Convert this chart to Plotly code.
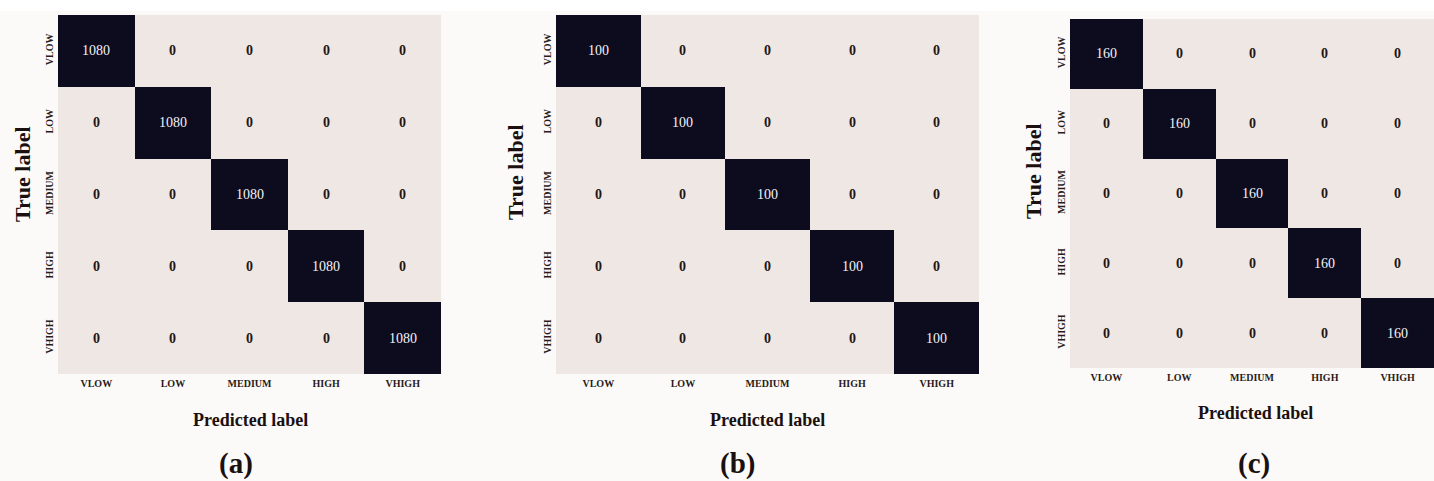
import plotly.graph_objects as go

W, H = 1434, 481

classes = ["VLOW", "LOW", "MEDIUM", "HIGH", "VHIGH"]
cm_a = [[1080, 0, 0, 0, 0],
        [0, 1080, 0, 0, 0],
        [0, 0, 1080, 0, 0],
        [0, 0, 0, 1080, 0],
        [0, 0, 0, 0, 1080]]
cm_b = [[100, 0, 0, 0, 0],
        [0, 100, 0, 0, 0],
        [0, 0, 100, 0, 0],
        [0, 0, 0, 100, 0],
        [0, 0, 0, 0, 100]]
cm_c = [[160, 0, 0, 0, 0],
        [0, 160, 0, 0, 0],
        [0, 0, 160, 0, 0],
        [0, 0, 0, 160, 0],
        [0, 0, 0, 0, 160]]
panel_labels = ["(a)", "(b)", "(c)"]
x_title = "Predicted label"
y_title = "True label"

FONT = "Liberation Serif, Times New Roman, Times, serif"
LIGHT = "#EFE7E3"
DARK = "#0D0B1E"

# pixel layout of each panel: (left, right, top, bottom)
boxes = [(58, 441, 15, 374), (556, 979, 15, 374), (1070, 1434, 19, 368)]
ytitle_pos = [(22, 174), (515, 172), (1033, 171)]
xtitle_pos = [(250, 420), (768, 420), (1255, 413)]
plabel_pos = [(236, 463), (738, 463), (1254, 463)]

fig = go.Figure()
annotations = []
mats = [cm_a, cm_b, cm_c]
for k, (cm, box) in enumerate(zip(mats, boxes)):
    sfx = "" if k == 0 else str(k + 1)
    xa, ya = "x" + sfx, "y" + sfx
    zmax = max(max(r) for r in cm)
    fig.add_trace(go.Heatmap(
        z=cm, x=classes, y=classes, xaxis=xa, yaxis=ya,
        colorscale=[[0, LIGHT], [1, DARK]], zmin=0, zmax=zmax,
        showscale=False, hoverinfo="skip"))
    for i, row in enumerate(cm):
        for j, v in enumerate(row):
            hi = v > zmax / 2
            annotations.append(dict(
                x=classes[j], y=classes[i], xref=xa, yref=ya,
                text=str(v), showarrow=False,
                font=dict(family=FONT, size=14,
                          color="#F4F2F6" if hi else "#221414",
                          weight="normal" if hi else "bold")))
    l, r, t, b = box
    fig.layout["xaxis" + sfx] = dict(
        domain=[l / W, r / W], anchor=ya, type="category",
        showgrid=False, zeroline=False, showline=False, ticks="",
        tickfont=dict(family=FONT, size=10, color="#2A1A1A", weight="bold"),
        ticklabelstandoff=2)
    fig.layout["yaxis" + sfx] = dict(
        domain=[1 - b / H, 1 - t / H], anchor=xa, type="category",
        autorange="reversed", showgrid=False, zeroline=False, showline=False,
        ticks="", tickangle=-90,
        tickfont=dict(family=FONT, size=10, color="#2A1A1A", weight="bold"),
        ticklabelstandoff=2)
    tx, ty = ytitle_pos[k]
    annotations.append(dict(x=tx / W, y=1 - ty / H, xref="paper", yref="paper",
                            xanchor="center", yanchor="middle",
                            text=y_title, textangle=-90, showarrow=False,
                            font=dict(family=FONT, size=22, color="#1A1010", weight="bold")))
    tx, ty = xtitle_pos[k]
    annotations.append(dict(x=tx / W, y=1 - ty / H, xref="paper", yref="paper",
                            xanchor="center", yanchor="middle",
                            text=x_title, showarrow=False,
                            font=dict(family=FONT, size=18, color="#1A1010", weight="bold")))
    tx, ty = plabel_pos[k]
    annotations.append(dict(x=tx / W, y=1 - ty / H, xref="paper", yref="paper",
                            xanchor="center", yanchor="middle",
                            text=panel_labels[k], showarrow=False,
                            font=dict(family=FONT, size=29, color="#1A1010", weight="bold")))

fig.update_layout(
    width=W, height=H, margin=dict(l=0, r=0, t=0, b=0),
    paper_bgcolor="#FBFAF8", plot_bgcolor="#FBFAF8",
    annotations=annotations,
    shapes=[dict(type="rect", xref="paper", yref="paper", x0=0, x1=1,
                 y0=1 - 11 / H, y1=1, fillcolor="white", line=dict(width=0),
                 layer="below")])
fig.write_html("out.html", config={"displayModeBar": False},
               post_script="document.body.style.margin='0';document.body.style.overflow='hidden';")
